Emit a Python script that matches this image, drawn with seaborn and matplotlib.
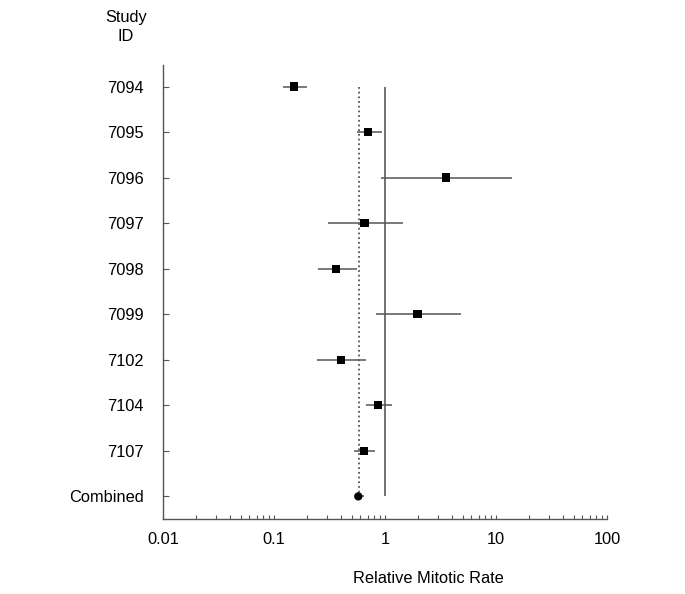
import numpy as np
import pandas as pd
import seaborn as sns
import matplotlib.pyplot as plt
from matplotlib.ticker import LogLocator, NullFormatter, FixedFormatter, FixedLocator

# Study data
studies = ['7094', '7095', '7096', '7097', '7098', '7099', '7102', '7104', '7107', 'Combined']
rate = [0.152, 0.707, 3.55, 0.656, 0.364, 1.96, 0.399, 0.871, 0.647, 0.575]
ci_low = [0.121, 0.556, 0.914, 0.308, 0.247, 0.83, 0.245, 0.674, 0.529, 0.537]
ci_high = [0.197, 0.946, 14.1, 1.45, 0.556, 4.81, 0.674, 1.16, 0.818, 0.647]
kind = ['study'] * 9 + ['combined']
pooled = 0.58
x_ticks = [0.01, 0.1, 1, 10, 100]
x_tick_labels = ['0.01', '0.1', '1', '10', '100']

df = pd.DataFrame({'study': studies, 'rate': rate, 'lo': ci_low, 'hi': ci_high, 'kind': kind})
df['pos'] = np.arange(len(df))

sns.set_style('white')
plt.rcParams['font.family'] = ['Liberation Sans', 'DejaVu Sans']
plt.rcParams['text.color'] = 'black'
plt.rcParams['xtick.color'] = 'black'
plt.rcParams['ytick.color'] = 'black'

fig = plt.figure(figsize=(6.85, 5.94), dpi=100)
ax = fig.add_axes([0.238, 0.126, 0.648, 0.765])

# Confidence intervals
ax.hlines(df['pos'], df['lo'], df['hi'], color='#555555', lw=1.1, zorder=2)

# Reference lines: null effect and pooled estimate
ax.vlines(1, 0, len(df) - 1, color='#666666', lw=1.3, zorder=1)
ax.vlines(pooled, 0, len(df) - 1, color='#555555', lw=1.3, linestyles=(0, (1, 1.6)), zorder=1)

sns.scatterplot(data=df, x='rate', y='pos', style='kind', markers={'study': 's', 'combined': 'o'},
                color='black', s=36, edgecolor='black', linewidth=0, legend=False, ax=ax, zorder=3)

ax.set_xscale('log')
ax.set_xlim(0.01, 100)
ax.set_ylim(len(df) - 0.5, -0.48)
ax.xaxis.set_major_locator(FixedLocator(x_ticks))
ax.xaxis.set_major_formatter(FixedFormatter(x_tick_labels))
ax.xaxis.set_minor_locator(LogLocator(base=10, subs=np.arange(2, 10)))
ax.xaxis.set_minor_formatter(NullFormatter())
ax.set_yticks(df['pos'])
ax.set_yticklabels(df['study'])

ax.tick_params(axis='x', which='both', bottom=True, direction='in', length=3, width=0.8,
               color='#555555', labelcolor='black', labelsize=11.8, pad=9)
ax.tick_params(axis='y', left=True, direction='in', length=4, width=0.8, color='#555555',
               labelcolor='black', labelsize=11.8, pad=14)
for side in ['top', 'right']:
    ax.spines[side].set_visible(False)
for side in ['left', 'bottom']:
    ax.spines[side].set_color('#555555')
    ax.spines[side].set_linewidth(1.0)

ax.set_xlabel('Relative Mitotic Rate', fontsize=11.8, color='black')
ax.set_ylabel('')
ax.xaxis.set_label_coords(0.597, -0.115)
fig.text(126 / 685, 1 - 27 / 594, 'Study\nID', ha='center', va='center', fontsize=11.8, linespacing=1.3)

fig.savefig('out.png', dpi=100)
